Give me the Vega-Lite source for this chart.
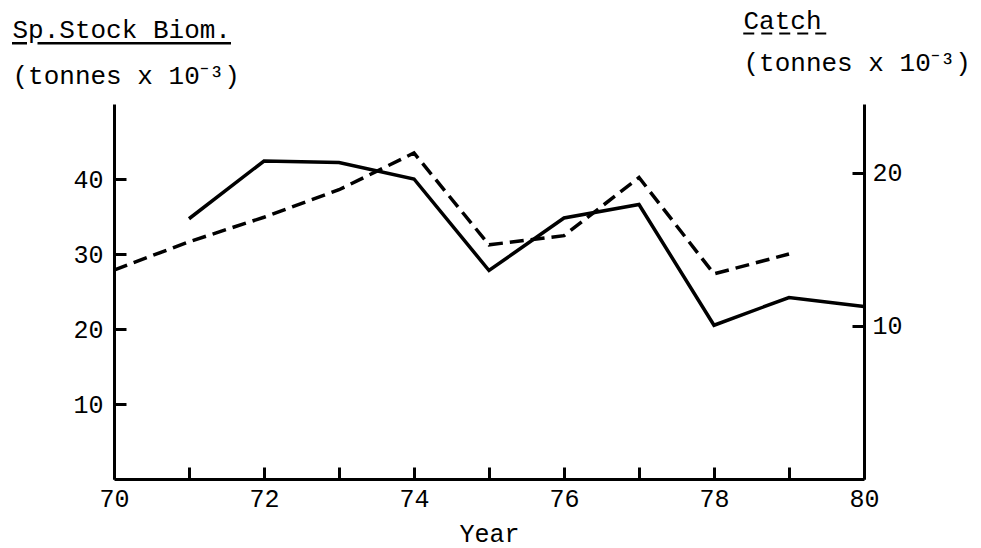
{
  "$schema": "https://vega.github.io/schema/vega-lite/v6.json",
  "width": 750,
  "height": 375,
  "autosize": {"type": "none"},
  "padding": {"left": 114, "top": 104, "right": 117, "bottom": 69},
  "background": "white",
  "config": {
    "view": {"stroke": null},
    "font": "Liberation Mono",
    "axis": {
      "labelFont": "Liberation Mono",
      "titleFont": "Liberation Mono",
      "labelFontSize": 25,
      "titleFontSize": 26,
      "labelColor": "black",
      "titleColor": "black",
      "titleFontWeight": "normal",
      "domainColor": "black",
      "tickColor": "black",
      "domainWidth": 3,
      "tickWidth": 3,
      "tickSize": -12,
      "grid": false,
      "labelFlush": false,
      "format": "d"
    }
  },
  "datasets": {
    "stock": [
      {"year": 71, "biomass": 34.7},
      {"year": 72, "biomass": 42.4},
      {"year": 73, "biomass": 42.2},
      {"year": 74, "biomass": 40.0},
      {"year": 75, "biomass": 27.8},
      {"year": 76, "biomass": 34.8},
      {"year": 77, "biomass": 36.6},
      {"year": 78, "biomass": 20.5},
      {"year": 79, "biomass": 24.2},
      {"year": 80, "biomass": 23.0}
    ],
    "catch": [
      {"year": 70, "catch": 13.65},
      {"year": 71, "catch": 15.5},
      {"year": 72, "catch": 17.1},
      {"year": 73, "catch": 18.9},
      {"year": 74, "catch": 21.3},
      {"year": 75, "catch": 15.3},
      {"year": 76, "catch": 15.9},
      {"year": 77, "catch": 19.7},
      {"year": 78, "catch": 13.4},
      {"year": 79, "catch": 14.7}
    ]
  },
  "layer": [
    {
      "layer": [
        {
          "data": {"name": "stock"},
          "mark": {"type": "line", "color": "black", "strokeWidth": 3.5, "clip": false},
          "encoding": {
            "x": {
              "field": "year", "type": "quantitative",
              "scale": {"domain": [70, 80], "nice": false, "zero": false},
              "axis": {
                "values": [70, 71, 72, 73, 74, 75, 76, 77, 78, 79, 80],
                "format": "d",
                "labelFlush": false,
                "labelExpr": "datum.value % 2 == 0 ? datum.label : ''",
                "labelPadding": 19,
                "title": "Year",
                "titleFontSize": 25,
                "titleY": 62,
                "titleBaseline": "alphabetic"
              }
            },
            "y": {
              "field": "biomass", "type": "quantitative",
              "scale": {"domain": [0, 50], "nice": false},
              "axis": {
                "values": [10, 20, 30, 40],
                "format": "d",
                "labelPadding": 23,
                "title": ["Sp.Stock Biom.", "(tonnes x 10⁻³)"],
                "titleAngle": 0,
                "titleAlign": "left",
                "titleBaseline": "alphabetic",
                "titleX": -102,
                "titleY": -67,
                "titleLineHeight": 46
              }
            }
          }
        },
        {
          "data": {"values": [{}]},
          "mark": {"type": "rule", "color": "black", "strokeWidth": 2.5, "clip": false},
          "encoding": {
            "x": {"datum": 68.64, "type": "quantitative"},
            "x2": {"datum": 68.84},
            "y": {"datum": 58.1, "type": "quantitative"}
          }
        },
        {
          "data": {"values": [{}]},
          "mark": {"type": "rule", "color": "black", "strokeWidth": 2.5, "clip": false},
          "encoding": {
            "x": {"datum": 68.98, "type": "quantitative"},
            "x2": {"datum": 71.56},
            "y": {"datum": 58.1, "type": "quantitative"}
          }
        },
        {
          "data": {"values": [{}]},
          "mark": {"type": "rule", "color": "black", "strokeWidth": 2, "strokeDash": [11, 7], "clip": false},
          "encoding": {
            "x": {"datum": 78.39, "type": "quantitative"},
            "x2": {"datum": 79.55},
            "y": {"datum": 59.4, "type": "quantitative"}
          }
        }
      ]
    },
    {
      "data": {"name": "catch"},
      "mark": {"type": "line", "color": "black", "strokeWidth": 3.5, "strokeDash": [14, 7], "clip": false},
      "encoding": {
        "x": {"field": "year", "type": "quantitative"},
        "y": {
          "field": "catch", "type": "quantitative",
          "scale": {"domain": [0, 24.5], "nice": false},
          "axis": {
            "orient": "right",
            "values": [10, 20],
            "format": "d",
            "labelPadding": 20,
            "title": ["Catch", "(tonnes x 10⁻³)"],
            "titleAngle": 0,
            "titleAlign": "left",
            "titleBaseline": "alphabetic",
            "titleX": -121,
            "titleY": -76,
            "titleLineHeight": 42
          }
        }
      }
    }
  ],
  "resolve": {"scale": {"y": "independent"}}
}
